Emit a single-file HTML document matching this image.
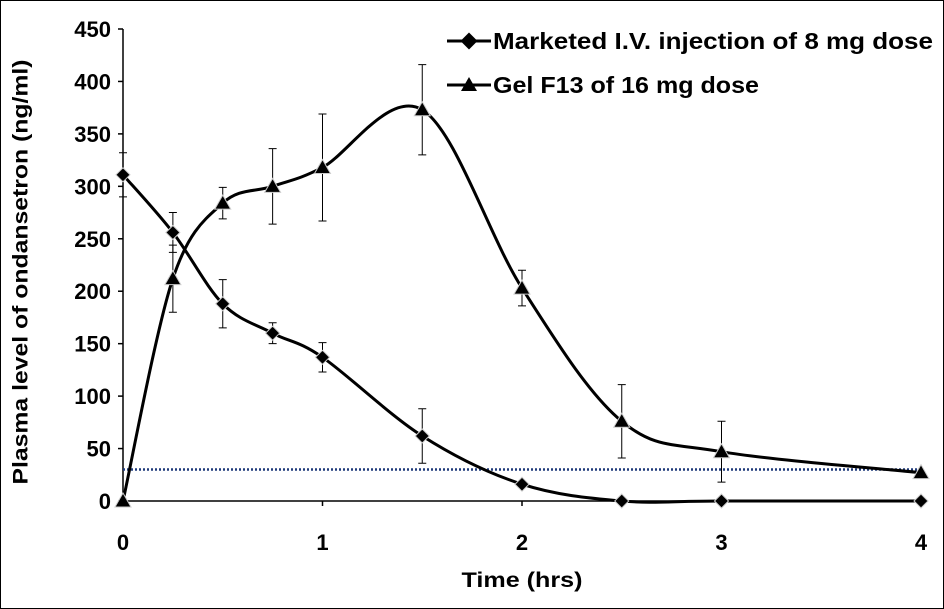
<!DOCTYPE html>
<html><head><meta charset="utf-8"><style>
html,body{margin:0;padding:0;background:#fff}
svg{display:block;font-family:"Liberation Sans",Arial,sans-serif;font-weight:bold}
</style></head><body>
<svg id="chart" width="944" height="609" viewBox="0 0 944 609">
<rect x="0.5" y="0.5" width="943" height="608" fill="#fff" stroke="#000" stroke-width="1"/>
<g id="axes"></g><g id="marks"></g>
<text x="22" y="272" transform="rotate(-90 22 272)" font-size="21" text-anchor="middle" dominant-baseline="middle" textLength="425" lengthAdjust="spacingAndGlyphs">Plasma level of ondansetron (ng/ml)</text>
<text x="522" y="587" font-size="21" text-anchor="middle" textLength="121" lengthAdjust="spacingAndGlyphs">Time (hrs)</text>
<g>
<g>
<line x1="447" y1="41" x2="491" y2="41" stroke="#000" stroke-width="3"/>
<rect x="463" y="35" width="12" height="12" transform="rotate(45 469 41)" fill="#000"/>
<text x="493" y="49" font-size="23" textLength="440" lengthAdjust="spacingAndGlyphs">Marketed I.V. injection of 8 mg dose</text></g>
<g>
<line x1="447" y1="85" x2="491" y2="85" stroke="#000" stroke-width="3"/>
<polygon points="469,77 477,91 461,91" fill="#000"/>
<text x="493" y="93" font-size="23" textLength="266" lengthAdjust="spacingAndGlyphs">Gel F13 of 16 mg dose</text></g>
</g>
</svg>
<script>
const times=[0,0.25,0.5,0.75,1,1.5,2,2.5,3,4];
const marketed=[311,256,188,160,137,62,16,0,0,0];
const marketedErr=[21,19,23,10,14,26,3,0,0,0];
const gel=[0,212,284,300,318,373,203,76,47,27];
const gelErr=[0,32,15,36,51,43,17,35,29,0];
const yTicks=[0,50,100,150,200,250,300,350,400,450];
const xTicks=[0,1,2,3,4];
const mecLevel=[30];
const NS="http://www.w3.org/2000/svg";
const X=v=>123+v*199.5, Y=v=>501-v*(472/450);
function el(t,a,p){const e=document.createElementNS(NS,t);for(const k in a)e.setAttribute(k,a[k]);p.appendChild(e);return e;}
const ax=document.getElementById('axes'),mk=document.getElementById('marks');
let l=el('line',{x1:123,y1:Y(450),x2:123,y2:501,stroke:'#000','stroke-width':1.5},ax);


l=el('line',{x1:123,y1:501,x2:921,y2:501,stroke:'#000','stroke-width':1.5},ax);


yTicks.forEach(v=>{const t=el('text',{x:111,y:Y(v)+8,'font-size':22,'text-anchor':'end'},ax);t.textContent=v;


const k=el('line',{x1:118,y1:Y(v),x2:123,y2:Y(v),stroke:'#000','stroke-width':1.5},ax);

});
xTicks.forEach(v=>{const t=el('text',{x:X(v),y:550,'font-size':22,'text-anchor':'middle'},ax);t.textContent=v;


const k=el('line',{x1:X(v),y1:501,x2:X(v),y2:506,stroke:'#000','stroke-width':1.5},ax);

});
const d=el('line',{x1:X(0),y1:Y(mecLevel[0]),x2:X(4),y2:Y(mecLevel[0]),stroke:'#1f3a7a','stroke-width':2.5,'stroke-dasharray':'2,2'},mk);


function smooth(xs,ys){const p=xs.map((x,i)=>[X(x),Y(ys[i])]);let s=`M${p[0][0]},${p[0][1]}`;
for(let i=0;i<p.length-1;i++){const p0=p[i-1]||p[i],p1=p[i],p2=p[i+1],p3=p[i+2]||p2;
const c1=[p1[0]+(p2[0]-p0[0])/6,p1[1]+(p2[1]-p0[1])/6],c2=[p2[0]-(p3[0]-p1[0])/6,p2[1]-(p3[1]-p1[1])/6];
s+=` C${c1[0]},${c1[1]} ${c2[0]},${c2[1]} ${p2[0]},${p2[1]}`;}return s;}
function series(vals,errs,name,shape){
const g=el('g',{},mk);


const p=el('path',{d:smooth(times,vals),fill:'none',stroke:'#000','stroke-width':3},g);


times.forEach((t,i)=>{const x=X(t);
if(errs[i]>0){const e=el('path',{d:`M${x},${Y(vals[i]+errs[i])}V${Y(vals[i]-errs[i])}M${x-4},${Y(vals[i]+errs[i])}h8M${x-4},${Y(vals[i]-errs[i])}h8`,stroke:'#000','stroke-width':1,fill:'none'},g);

}
const y=Y(vals[i]);let m;
if(shape==='d')m=el('polygon',{points:`${x},${y-7} ${x+7},${y} ${x},${y+7} ${x-7},${y}`,fill:'#000',stroke:'#ccc','stroke-width':1},g);
else m=el('polygon',{points:`${x},${y-8} ${x+8},${y+6} ${x-8},${y+6}`,fill:'#000',stroke:'#ccc','stroke-width':1},g);

});}
series(marketed,marketedErr,'marketed','d');
series(gel,gelErr,'gel','t');
</script>
</body></html>
